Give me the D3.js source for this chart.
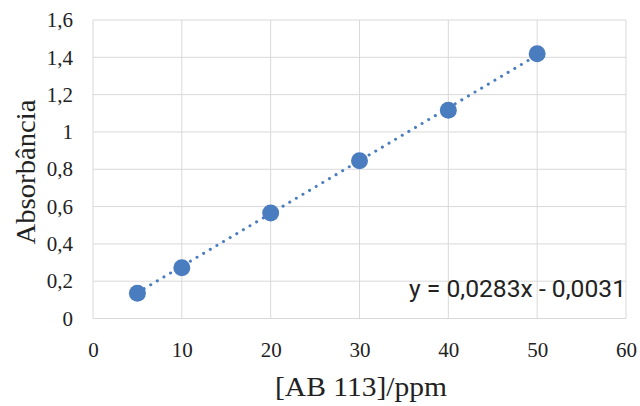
<!DOCTYPE html>
<html>
<head>
<meta charset="utf-8">
<script src="https://cdn.jsdelivr.net/npm/d3@7"></script>
<style>
  body { margin: 0; background: #fff; }
</style>
</head>
<body>
<div id="chart-area"></div>
<script>
var conc = [5, 10, 20, 30, 40, 50];
var absorb = [0.135, 0.272, 0.566, 0.846, 1.116, 1.419];
var xTicks = [0, 10, 20, 30, 40, 50, 60];
var yTicks = [0, 0.2, 0.4, 0.6, 0.8, 1, 1.2, 1.4, 1.6];
var slope = 0.0283, intercept = -0.0031;

var serif = '"Liberation Serif", "Times New Roman", serif';

var margin = { top: 20, right: 14, bottom: 87.5, left: 93 };
var width = 640 - margin.left - margin.right;
var height = 406 - margin.top - margin.bottom;

var svg = d3.select('#chart-area')
    .append("svg")
        .attr("width", 640)
        .attr("height", 406);
var g = svg.append("g")
    .attr("transform", "translate(" + margin.left + ", " + margin.top + ")");

var x = d3.scaleLinear().domain([0, 60]).range([0, width]);
var y = d3.scaleLinear().domain([0, 1.6]).range([height, 0]);

var fmt = d => String(d).replace('.', ',');

// gridlines
g.append("g")
    .selectAll("line")
    .data(xTicks)
    .enter().append("line")
        .attr("x1", d => x(d)).attr("x2", d => x(d))
        .attr("y1", 0).attr("y2", height)
        .attr("stroke", "#d9d9d9").attr("stroke-width", 1);
g.append("g")
    .selectAll("line")
    .data(yTicks)
    .enter().append("line")
        .attr("x1", 0).attr("x2", width)
        .attr("y1", d => y(d)).attr("y2", d => y(d))
        .attr("stroke", "#d9d9d9").attr("stroke-width", 1);

// axes (labels only)
var xAxis = g.append("g")
    .attr("transform", "translate(0," + height + ")")
    .call(d3.axisBottom(x).tickValues(xTicks).tickFormat(fmt).tickSize(0).tickPadding(24));
xAxis.select(".domain").remove();

var yAxis = g.append("g")
    .call(d3.axisLeft(y).tickValues(yTicks).tickFormat(fmt).tickSize(0).tickPadding(20));
yAxis.select(".domain").remove();

g.selectAll(".tick text")
    .style("font-family", serif)
    .style("font-size", "21px")
    .style("fill", "#222");

// trendline
var x0 = d3.min(conc), x1 = d3.max(conc);
g.append("line")
    .attr("x1", x(x0)).attr("y1", y(slope * x0 + intercept))
    .attr("x2", x(x1)).attr("y2", y(slope * x1 + intercept))
    .attr("stroke", "#4a7cc0")
    .attr("stroke-width", 3)
    .attr("stroke-linecap", "round")
    .attr("stroke-dasharray", "0.1 7.6");

// points
g.selectAll("circle")
    .data(conc)
    .enter().append("circle")
        .attr("cx", d => x(d))
        .attr("cy", (d, i) => y(absorb[i]))
        .attr("r", 8.5)
        .attr("fill", "#4a7cc0");

// equation
g.append("text")
    .attr("x", width)
    .attr("y", y(0.2) + 16)
    .attr("text-anchor", "end")
    .attr("textLength", 217)
    .attr("lengthAdjust", "spacingAndGlyphs")
    .style("font-family", "Roboto, sans-serif")
    .style("font-size", "24px")
    .style("fill", "#222")
    .text("y = 0,0283x - 0,0031");

// axis titles
svg.append("text")
    .attr("x", 361)
    .attr("y", 396)
    .attr("text-anchor", "middle")
    .attr("textLength", 172)
    .attr("lengthAdjust", "spacingAndGlyphs")
    .style("font-family", serif)
    .style("font-size", "28px")
    .style("fill", "#222")
    .text("[AB 113]/ppm");

svg.append("text")
    .attr("transform", "translate(35,172) rotate(-90)")
    .attr("text-anchor", "middle")
    .attr("textLength", 145)
    .attr("lengthAdjust", "spacingAndGlyphs")
    .style("font-family", serif)
    .style("font-size", "28px")
    .style("fill", "#222")
    .text("Absorbância");
</script>
</body>
</html>
